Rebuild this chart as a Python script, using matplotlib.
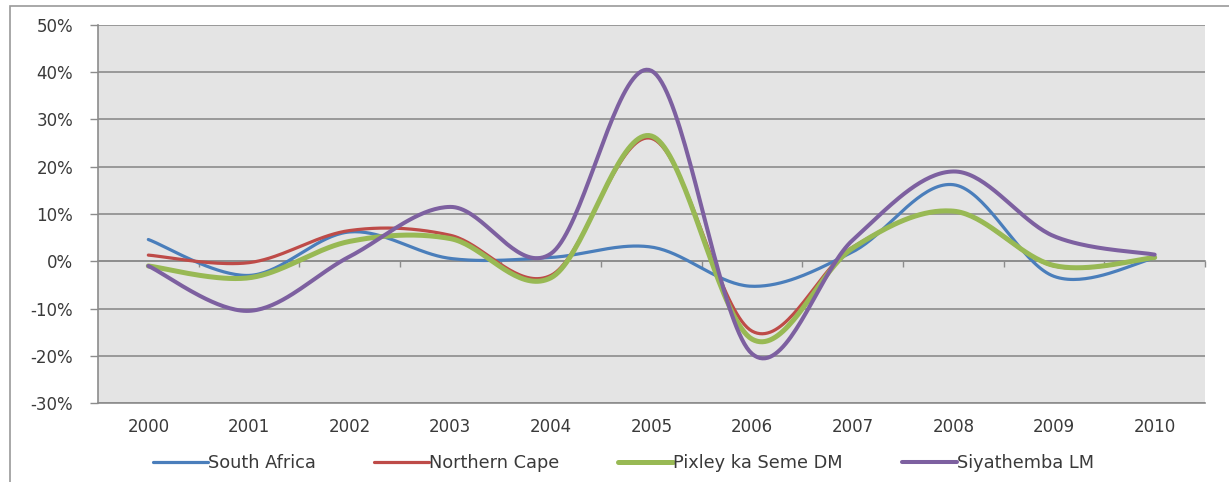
import numpy as np
import matplotlib
matplotlib.use("Agg")
import matplotlib.pyplot as plt
from matplotlib.patches import Rectangle
from matplotlib.ticker import FuncFormatter

# Annual growth rates (%)
years = ["2000", "2001", "2002", "2003", "2004", "2005",
         "2006", "2007", "2008", "2009", "2010"]
south_africa = [4.6, -3.0, 6.2, 0.6, 0.8, 3.0, -5.3, 2.0, 16.2, -3.2, 0.7]
northern_cape = [1.3, -0.3, 6.5, 5.5, -3.0, 26.0, -14.8, 3.0, 10.6, -1.0, 0.8]
pixley = [-1.0, -3.5, 4.2, 4.8, -3.5, 26.5, -16.5, 2.8, 10.6, -0.9, 0.8]
siyathemba = [-1.0, -10.5, 1.0, 11.5, 1.6, 40.3, -19.6, 4.5, 19.0, 5.3, 1.4]

series_names = ["South Africa", "Northern Cape", "Pixley ka Seme DM", "Siyathemba LM"]
series_values = [south_africa, northern_cape, pixley, siyathemba]
colors = ["#4A7EBB", "#BE4B48", "#98B954", "#7D60A0"]
widths = [2.3, 2.3, 3.6, 2.9]


def smooth(x, y, n=40):
    """Excel-style smoothed line: cubic Bezier segments with Catmull-Rom tangents."""
    x = np.asarray(x, float)
    y = np.asarray(y, float)
    px = np.concatenate([[x[0]], x, [x[-1]]])
    py = np.concatenate([[y[0]], y, [y[-1]]])
    t = np.linspace(0, 1, n)[:, None]
    xs, ys = [], []
    for i in range(1, len(px) - 2):
        p0 = np.array([px[i - 1], py[i - 1]])
        p1 = np.array([px[i], py[i]])
        p2 = np.array([px[i + 1], py[i + 1]])
        p3 = np.array([px[i + 2], py[i + 2]])
        c1 = p1 + (p2 - p0) / 6.0
        c2 = p2 - (p3 - p1) / 6.0
        pts = ((1 - t) ** 3) * p1 + 3 * ((1 - t) ** 2) * t * c1 \
            + 3 * (1 - t) * t ** 2 * c2 + t ** 3 * p2
        if i > 1:
            pts = pts[1:]
        xs.append(pts[:, 0])
        ys.append(pts[:, 1])
    return np.concatenate(xs), np.concatenate(ys)


plt.rcParams["font.family"] = ["DejaVu Sans"]
FS = 12

fig = plt.figure(figsize=(12.29, 4.82), dpi=100)
fig.patch.set_facecolor("white")

# outer chart frame
fig.add_artist(Rectangle((10 / 1229, -0.05), 1.2, 1 - 6 / 482 + 0.05,
                         transform=fig.transFigure, fill=False,
                         edgecolor="#9a9a9a", linewidth=1.2))

ax = fig.add_axes([98 / 1229, 1 - 403 / 482, (1205 - 98) / 1229, (403 - 25) / 482])
ax.set_facecolor("#E4E4E4")

xpos = np.arange(len(years))
for name, vals, c, lw in zip(series_names, series_values, colors, widths):
    sx, sy = smooth(xpos, vals)
    ax.plot(sx, sy, color=c, linewidth=lw, label=name,
            solid_capstyle="round", solid_joinstyle="round")

ax.set_xlim(-0.5, len(years) - 0.5)
ax.set_ylim(-30, 50)
ax.set_yticks(np.arange(-30, 51, 10))
ax.yaxis.set_major_formatter(FuncFormatter(lambda v, p: f"{int(v)}%"))
ax.grid(axis="y", color="#8C8C8C", linewidth=1.2)
ax.set_axisbelow(True)

ax.set_xticks(xpos)
ax.set_xticklabels(years)
ax.tick_params(axis="x", length=0, pad=11, labelsize=FS, colors="#3a3a3a")
ax.tick_params(axis="y", length=6, width=1.0, color="#8C8C8C", pad=12,
               labelsize=FS, labelcolor="#3a3a3a")

for side in ["top", "right"]:
    ax.spines[side].set_visible(False)
ax.spines["left"].set_color("#8C8C8C")
ax.spines["left"].set_linewidth(1.2)
ax.spines["bottom"].set_color("#8C8C8C")
ax.spines["bottom"].set_linewidth(1.2)

# category axis crossing at 0% with tick marks between categories
zero_frac = (0 - (-30)) / 80
sec = ax.secondary_xaxis(zero_frac)
sec.set_xticks(np.arange(0.5, len(years), 1.0))
sec.set_xticklabels([])
sec.tick_params(axis="x", direction="out", length=4, width=1.0, color="#8C8C8C")
sec.spines["bottom"].set_color("#8C8C8C")
sec.spines["bottom"].set_linewidth(1.2)
sec.spines["top"].set_visible(False)

fig.legend(loc="center", bbox_to_anchor=(0.507, 1 - 463 / 482), ncol=4,
           frameon=False, fontsize=12.8, handlelength=3.1, handletextpad=0.0,
           columnspacing=3.3, labelcolor="#3a3a3a")

fig.savefig("out.png", dpi=100, facecolor="white")
